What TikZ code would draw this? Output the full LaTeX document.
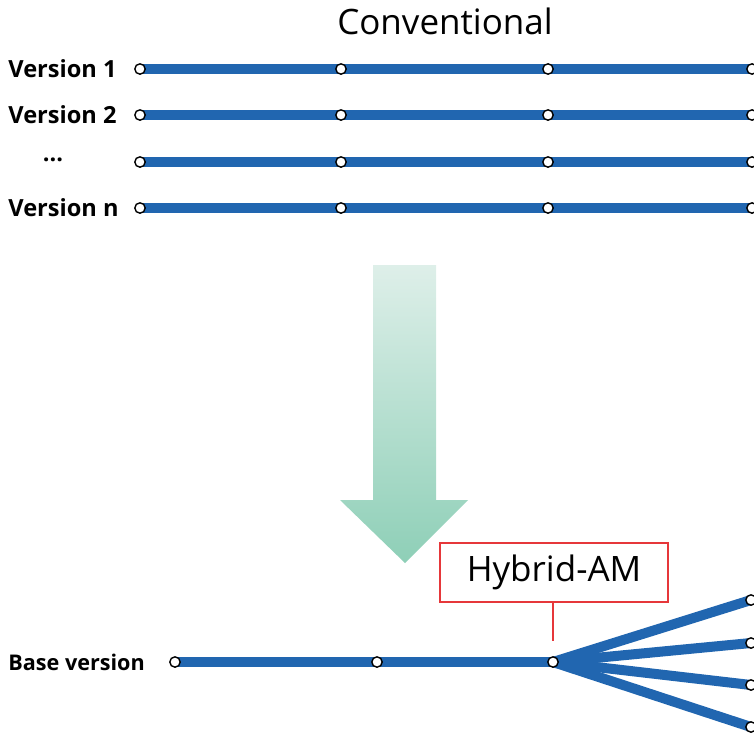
\documentclass[tikz,border=0pt]{standalone}
\usepackage{fontspec}
\setmainfont{Open Sans}
\usetikzlibrary{positioning,backgrounds}

\definecolor{trackblue}{RGB}{33,102,176}
\definecolor{boxred}{RGB}{230,55,58}
\definecolor{arrowtop}{RGB}{222,239,233}
\definecolor{arrowbottom}{RGB}{142,207,183}

\begin{document}
\begin{tikzpicture}[%
    x=0.5pt,
    y=-0.5pt,
    station/.style={%
      circle,
      draw=black,
      fill=white,
      line width=0.7pt,
      inner sep=0pt,
      minimum size=5.2pt
    },
    track/.style={%
      draw=trackblue,
      line width=5pt
    },
    rowlabel/.style={%
      anchor=west,
      inner sep=0pt,
      font=\bfseries\fontsize{11.8}{13}\selectfont
    },
    title/.style={%
      inner sep=0pt,
      font=\fontsize{17.5}{20}\selectfont
    },
    callout/.style={%
      rectangle,
      draw=boxred,
      line width=1pt,
      minimum width=114pt,
      minimum height=29.5pt,
      font=\fontsize{17.5}{20}\selectfont
    }
  ]
    \useasboundingbox (0,0) rectangle (754,734);

    % conventional versions
    \node[title] (conv) at (445,21) {Conventional};

    \foreach \y/\n/\txt in {69/r1/Version 1, 115/r2/Version 2, 208/rn/Version n} {
      \node[rowlabel] (\n l) at (8,\y) {\txt};
    }
    \node[rowlabel,anchor=center] (rdl) at (53,160) {...};

    \foreach \y/\n in {69/r1, 115/r2, 162/rd, 208/rn} {
      \node[station] (\n a) at (140,\y) {};
      \node[station] (\n b) at (341,\y) {};
      \node[station] (\n c) at (548,\y) {};
      \node[station] (\n d) at (752,\y) {};
      \begin{pgfonlayer}{background}
        \draw[track] (\n a.center) -- (\n d.center);
      \end{pgfonlayer}
    }

    % transition arrow
    \shade[top color=arrowtop, bottom color=arrowbottom]
      (373,265) -- (436,265) -- (436,500) -- (468,500) -- (405,563)
      -- (340,500) -- (373,500) -- cycle;

    % hybrid version
    \node[rowlabel,font=\bfseries\fontsize{10.8}{13}\selectfont] (basel) at (8,662) {Base version};
    \node[station] (b1) at (175,662) {};
    \node[station] (b2) at (377,662) {};
    \node[station] (b3) at (553,662) {};
    \node[station] (e1) at (751,600) {};
    \node[station] (e2) at (751,643) {};
    \node[station] (e3) at (751,685) {};
    \node[station] (e4) at (751,727) {};

    \begin{pgfonlayer}{background}
      \draw[track] (b1.center) -- (b3.center);
      \draw[track] (b3.center) -- (e1.center);
      \draw[track] (b3.center) -- (e2.center);
      \draw[track] (b3.center) -- (e3.center);
      \draw[track] (b3.center) -- (e4.center);
    \end{pgfonlayer}

    \node[callout] (hyb) at (554,572) {Hybrid-AM};
    \coordinate (hybfoot) at (553,641);
    \draw[boxred, line width=1pt] (hyb.south -| hybfoot) -- (hybfoot);
\end{tikzpicture}
\end{document}
